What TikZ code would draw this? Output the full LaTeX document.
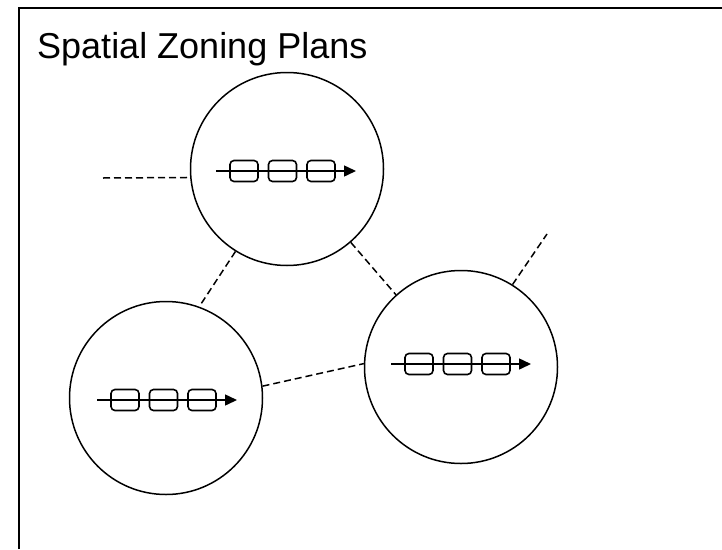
\documentclass[tikz,border=0pt]{standalone}
\usepackage{fontspec}
\setmainfont{Liberation Sans}
\usetikzlibrary{arrows.meta}
\begin{document}
\begin{tikzpicture}[x=1pt,y=-1pt,
	zone/.style={draw,circle,minimum size=193pt,inner sep=0pt,line width=1.5pt},
	link/.style={dash pattern=on 7pt off 4pt,line width=1.5pt},
	cell/.style={draw,rounded corners=4pt,minimum width=28pt,minimum height=21pt,inner sep=0pt,line width=1.6pt},
	flow/.style={line width=1.5pt,-{Triangle[length=12pt,width=11pt]}}]
			\useasboundingbox (0,0) rectangle (722,549);
			\draw[line width=2pt] (19,549) -- (19,8) -- (722,8);
			\node[anchor=base west,inner sep=0pt,font=\fontsize{36}{40}\selectfont] (title) at (37,58) {Spatial Zoning Plans};
			\node[zone] (top) at (287,169) {};
			\node[zone] (left) at (166,398) {};
			\node[zone] (right) at (461,367) {};
			% three cells on each flow
			\foreach \z/\x/\y in {top/216/171, left/97/400, right/391/364} {
				\coordinate (\z-s) at (\x,\y);
				\coordinate (\z-e) at (\x+140,\y);
				\foreach \k in {0,1,2}
					\node[cell] (\z-\k) at (\x+28+38.5*\k,\y) {};
				\draw[flow] (\z-s) -- (\z-e);
			}
			% dashed links
			\coordinate (w) at (103,178);
			\coordinate (ne) at (547,234);
			\draw[link] (w) -- (top.185);
			\draw[link] (top.238) -- (left.70);
			\draw[link] (top.311) -- (right.132);
			\draw[link] (left.7) -- (right.178);
			\draw[link] (right.58) -- (ne);
		\end{tikzpicture}
\end{document}
